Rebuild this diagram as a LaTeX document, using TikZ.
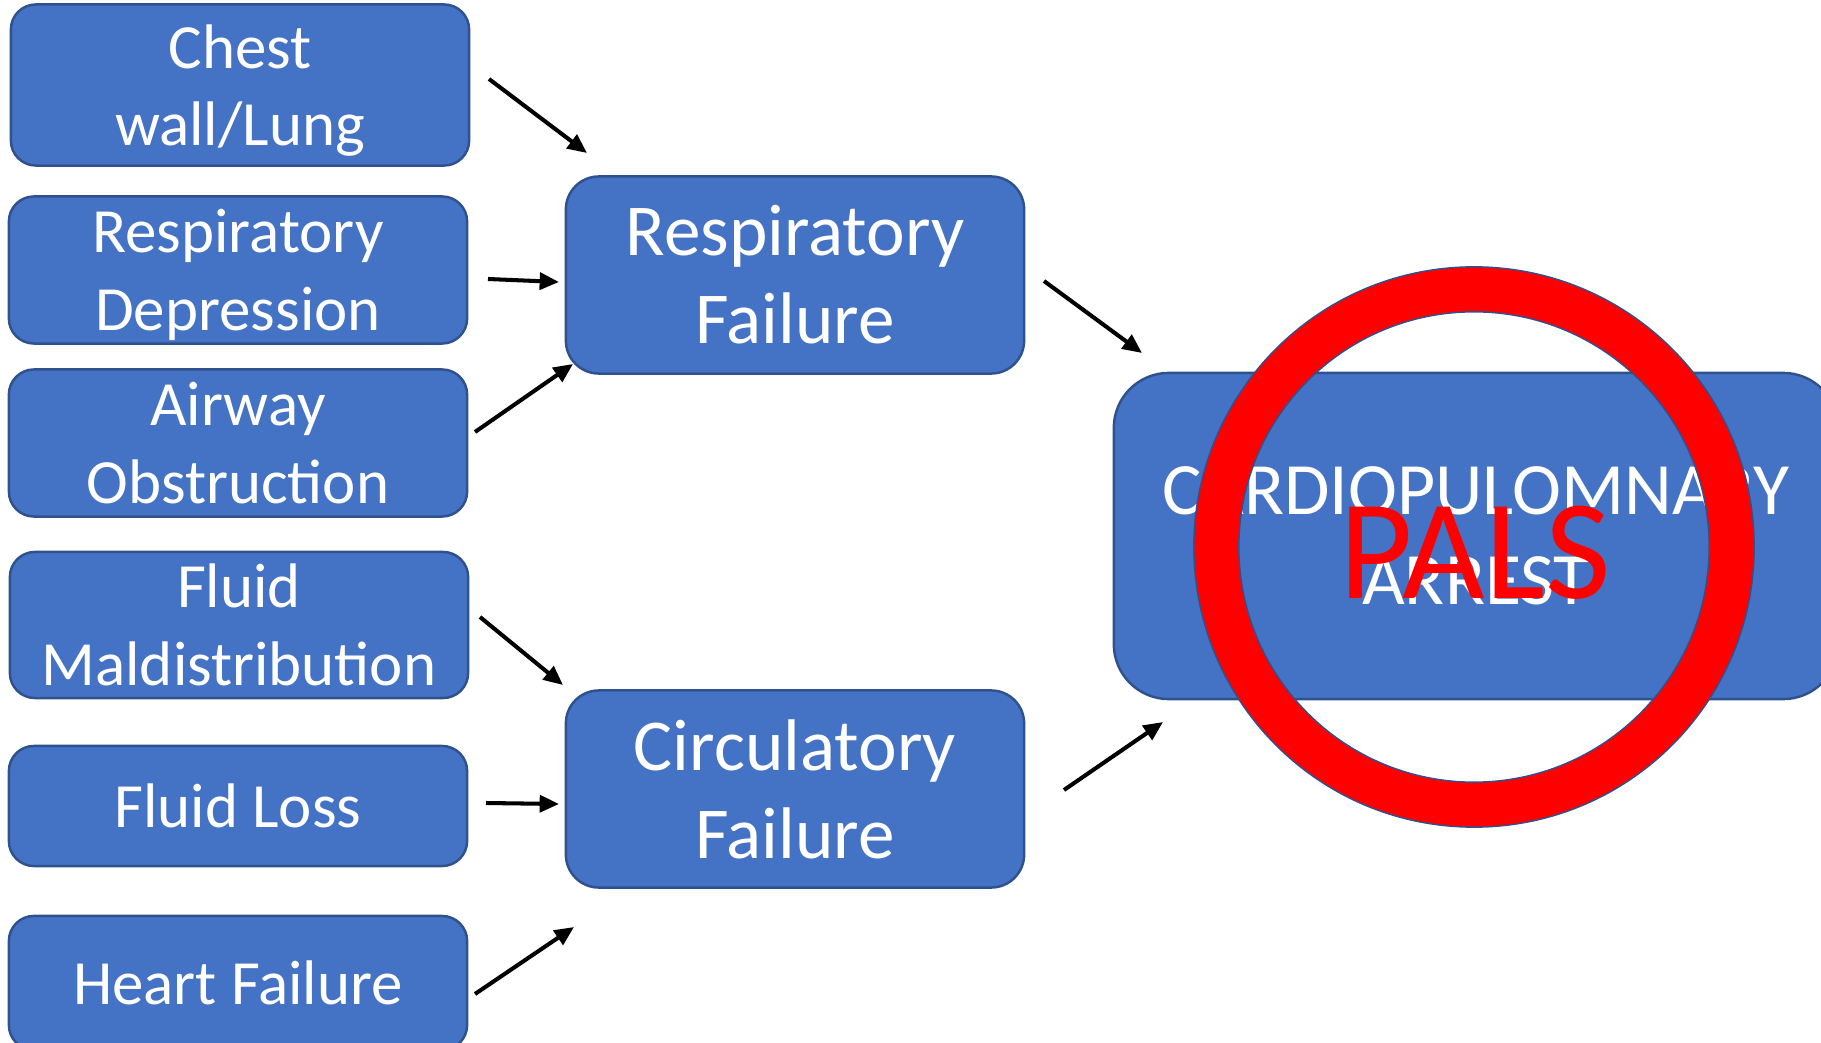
\documentclass[tikz,border=0pt]{standalone}
\usepackage{fontspec}
\setmainfont{Carlito}
\usetikzlibrary{arrows.meta}
\definecolor{boxblue}{HTML}{4472C4}
\definecolor{boxline}{HTML}{2F528F}
\definecolor{ringred}{HTML}{FF0000}
\tikzset{
  box/.style={draw=boxline, line width=0.7pt, fill=boxblue, text=white, align=center, inner sep=0pt},
  cause/.style={box, rounded corners=0.25cm, minimum width=4.58cm, font=\fontsize{17.9}{22}\selectfont},
  failure/.style={box, rounded corners=0.33cm, minimum width=4.58cm, minimum height=1.97cm, font=\fontsize{20.8}{25}\selectfont},
  arr/.style={line width=1.15pt, -{Triangle[length=5.5pt,width=4.8pt]}}
}
\begin{document}
\begin{tikzpicture}[x=0.01cm,y=-0.01cm]
  \useasboundingbox (0,0) rectangle (1821,1043);
  % causes
  \node[cause, minimum height=1.61cm, text depth=0cm] (chest) at (240,85) {Chest\\wall/Lung};
  \node[cause, minimum height=1.47cm, text depth=0cm] (resdep) at (238,270) {Respiratory\\Depression};
  \node[cause, minimum height=1.47cm] (airway) at (238,443) {Airway\\Obstruction};
  \node[cause, minimum height=1.46cm] (fluidmal) at (239,625) {Fluid\\Maldistribution};
  \node[cause, minimum height=1.20cm] (fluidloss) at (238,806) {Fluid Loss};
  \node[cause, minimum height=1.34cm] (heart) at (238,983) {Heart Failure};
  % failures
  \node[failure] (resfail) at (795,275) {Respiratory\\Failure};
  \node[failure] (circfail) at (795,789) {Circulatory\\Failure};
  % arrest
  \node[box, rounded corners=0.55cm, minimum width=7.24cm, minimum height=3.26cm,
    font=\fontsize{21}{25.6}\selectfont] (arrest) at (1476,536) {CARDIOPULOMNARY\\ARREST};
  % arrow ends
  \coordinate (chestA) at (489,79);    \coordinate (chestB) at (587,153);
  \coordinate (resdepA) at (488,279);  \coordinate (resdepB) at (559,282);
  \coordinate (airwayA) at (475,432);  \coordinate (airwayB) at (573,364);
  \coordinate (fluidmalA) at (480,617); \coordinate (fluidmalB) at (563,685);
  \coordinate (fluidlossA) at (486,803); \coordinate (fluidlossB) at (559,804);
  \coordinate (heartA) at (475,994);   \coordinate (heartB) at (574,927);
  \coordinate (resfailA) at (1044,281); \coordinate (resfailB) at (1142,353);
  \coordinate (circfailA) at (1064,790); \coordinate (circfailB) at (1163,722);
  \draw[arr] (chestA) -- (chestB);
  \draw[arr] (resdepA) -- (resdepB);
  \draw[arr] (airwayA) -- (airwayB);
  \draw[arr] (fluidmalA) -- (fluidmalB);
  \draw[arr] (fluidlossA) -- (fluidlossB);
  \draw[arr] (heartA) -- (heartB);
  \draw[arr] (resfailA) -- (resfailB);
  \draw[arr] (circfailA) -- (circfailB);
  % no-sign
  \coordinate (ring) at (1474,547);
  \draw[boxline, line width=0.4pt, fill=ringred, even odd rule]
    (ring) circle[radius=2.8cm] (ring) circle[radius=2.35cm];
  \node[text=ringred, font=\fontsize{40.5}{40.5}\selectfont, anchor=base] (pals) at (1475,598) {PALS};
\end{tikzpicture}
\end{document}
